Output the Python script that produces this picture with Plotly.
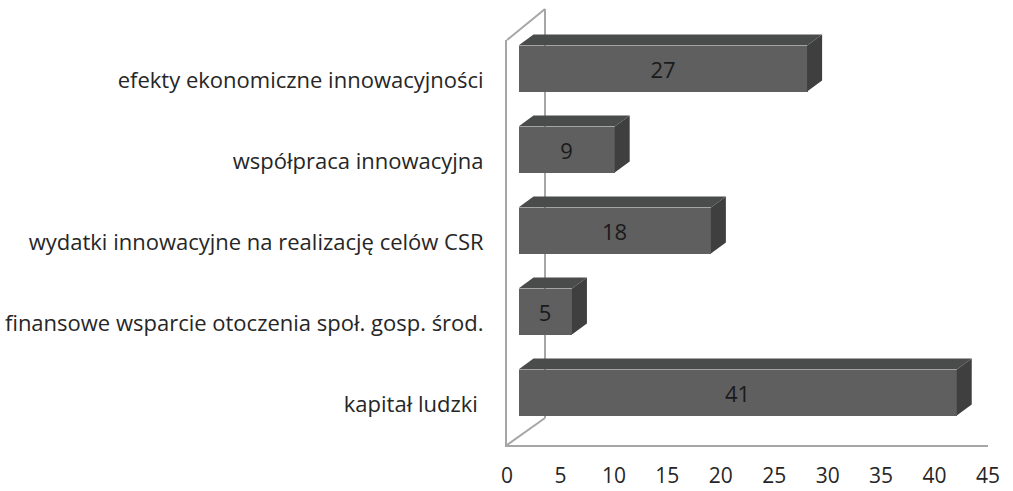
import plotly.graph_objects as go

# ---------------- data ----------------
categories = [
    "kapitał ludzki ",
    "finansowe wsparcie otoczenia społ. gosp. środ.",
    "wydatki innowacyjne na realizację celów CSR",
    "współpraca innowacyjna",
    "efekty ekonomiczne innowacyjności",
]
values = [41, 5, 18, 9, 27]
x_tick_vals = [0, 5, 10, 15, 20, 25, 30, 35, 40, 45]
x_tick_text = ["0", "5", "10", "15", "20", "25", "30", "35", "40", "45"]

# ---------------- geometry (pixels) ----------------
W, H = 1013, 491
X0, X1 = 507, 988          # front plane: value 0 and value 45
Y_BOT, Y_TOP = 445, 40     # front plane: floor and top of the wall
BAR_DX, BAR_DY = 11.5, 12  # shift of bar front faces into depth
XMAX = 45
px_per_unit = (X1 - X0) / XMAX
px_per_cat = (Y_BOT - Y_TOP) / len(categories)
BAR_W = 46 / px_per_cat
DEPTH_X = 15 / px_per_unit
DEPTH_Y = 11 / px_per_cat
BACK_X = 545

FRONT = "#5f5f5f"
TOP = "#4a4b4b"
SIDE = "#3f3f3f"
LINE = "#a6a6a6"
FONT = "Open Sans"
FS = 22
FS_TICK = 21

def px_x(p):
    return p / W

def px_y(p):
    return (H - p) / H

pos = list(range(len(categories)))

fig = go.Figure()

# top and side faces of each bar (derived from the data values)
for i, v in zip(pos, values):
    yt = i + BAR_W / 2
    yb = i - BAR_W / 2
    fig.add_trace(go.Scatter(
        x=[0, v, v + DEPTH_X, DEPTH_X, 0],
        y=[yt, yt, yt + DEPTH_Y, yt + DEPTH_Y, yt],
        fill="toself", fillcolor=TOP, mode="lines",
        line=dict(width=0, color=TOP), hoverinfo="skip",
        xaxis="x2", yaxis="y2", showlegend=False))
    fig.add_trace(go.Scatter(
        x=[v, v + DEPTH_X, v + DEPTH_X, v, v],
        y=[yb, yb + DEPTH_Y, yt + DEPTH_Y, yt, yb],
        fill="toself", fillcolor=SIDE, mode="lines",
        line=dict(width=0, color=SIDE), hoverinfo="skip",
        xaxis="x2", yaxis="y2", showlegend=False))

# front faces
fig.add_trace(go.Bar(
    x=values, y=pos, orientation="h", width=BAR_W,
    marker=dict(color=FRONT, line=dict(width=0)),
    text=[str(v) for v in values], textposition="inside",
    insidetextanchor="middle", constraintext="none",
    textfont=dict(family=FONT, size=FS, color="#1a1a1a"),
    xaxis="x2", yaxis="y2", showlegend=False))

# invisible trace to anchor the front plane axes
fig.add_trace(go.Scatter(x=[0], y=[0], mode="markers",
                         marker=dict(opacity=0), hoverinfo="skip",
                         showlegend=False))

# back wall decoration
wall = [
    ((X0, Y_TOP), (BACK_X, 9)),
    ((BACK_X, 9), (BACK_X, 418)),
    ((X0, Y_BOT), (BACK_X, 418)),
]
for (ax, ay), (bx, by) in wall:
    fig.add_shape(type="line", xref="paper", yref="paper",
                  x0=px_x(ax), y0=px_y(ay), x1=px_x(bx), y1=px_y(by),
                  line=dict(color=LINE, width=2), layer="below")

fig.update_layout(
    template="none",
    width=W, height=H,
    margin=dict(l=0, r=0, t=0, b=0, pad=0),
    paper_bgcolor="white", plot_bgcolor="rgba(0,0,0,0)",
    font=dict(family=FONT, size=FS, color="#262626"),
    xaxis=dict(domain=[px_x(X0), px_x(X1)], range=[0, XMAX],
               tickvals=x_tick_vals, ticktext=x_tick_text,
               showgrid=False, zeroline=False, showline=True,
               linecolor=LINE, linewidth=2, ticks="",
               ticklabelstandoff=11, anchor="y", automargin=False,
               tickfont=dict(family=FONT, size=FS_TICK, color="#262626")),
    yaxis=dict(domain=[px_y(Y_BOT), px_y(Y_TOP)], range=[-0.5, len(categories) - 0.5],
               tickvals=pos, ticktext=categories,
               showgrid=False, zeroline=False, showline=True,
               linecolor=LINE, linewidth=2, ticks="",
               ticklabelstandoff=17, anchor="x", automargin=False,
               tickfont=dict(family=FONT, size=FS, color="#262626")),
    xaxis2=dict(domain=[px_x(X0 + BAR_DX), px_x(X1 + BAR_DX)], range=[0, XMAX],
                visible=False, anchor="y2", automargin=False),
    yaxis2=dict(domain=[px_y(Y_BOT - BAR_DY), px_y(Y_TOP - BAR_DY)],
                range=[-0.5, len(categories) - 0.5],
                visible=False, anchor="x2", automargin=False),
    bargap=0,
)

fig.write_html(
    "out.html",
    config={"displayModeBar": False},
    post_script="document.body.style.margin='0px';document.body.style.overflow='hidden';",
)
